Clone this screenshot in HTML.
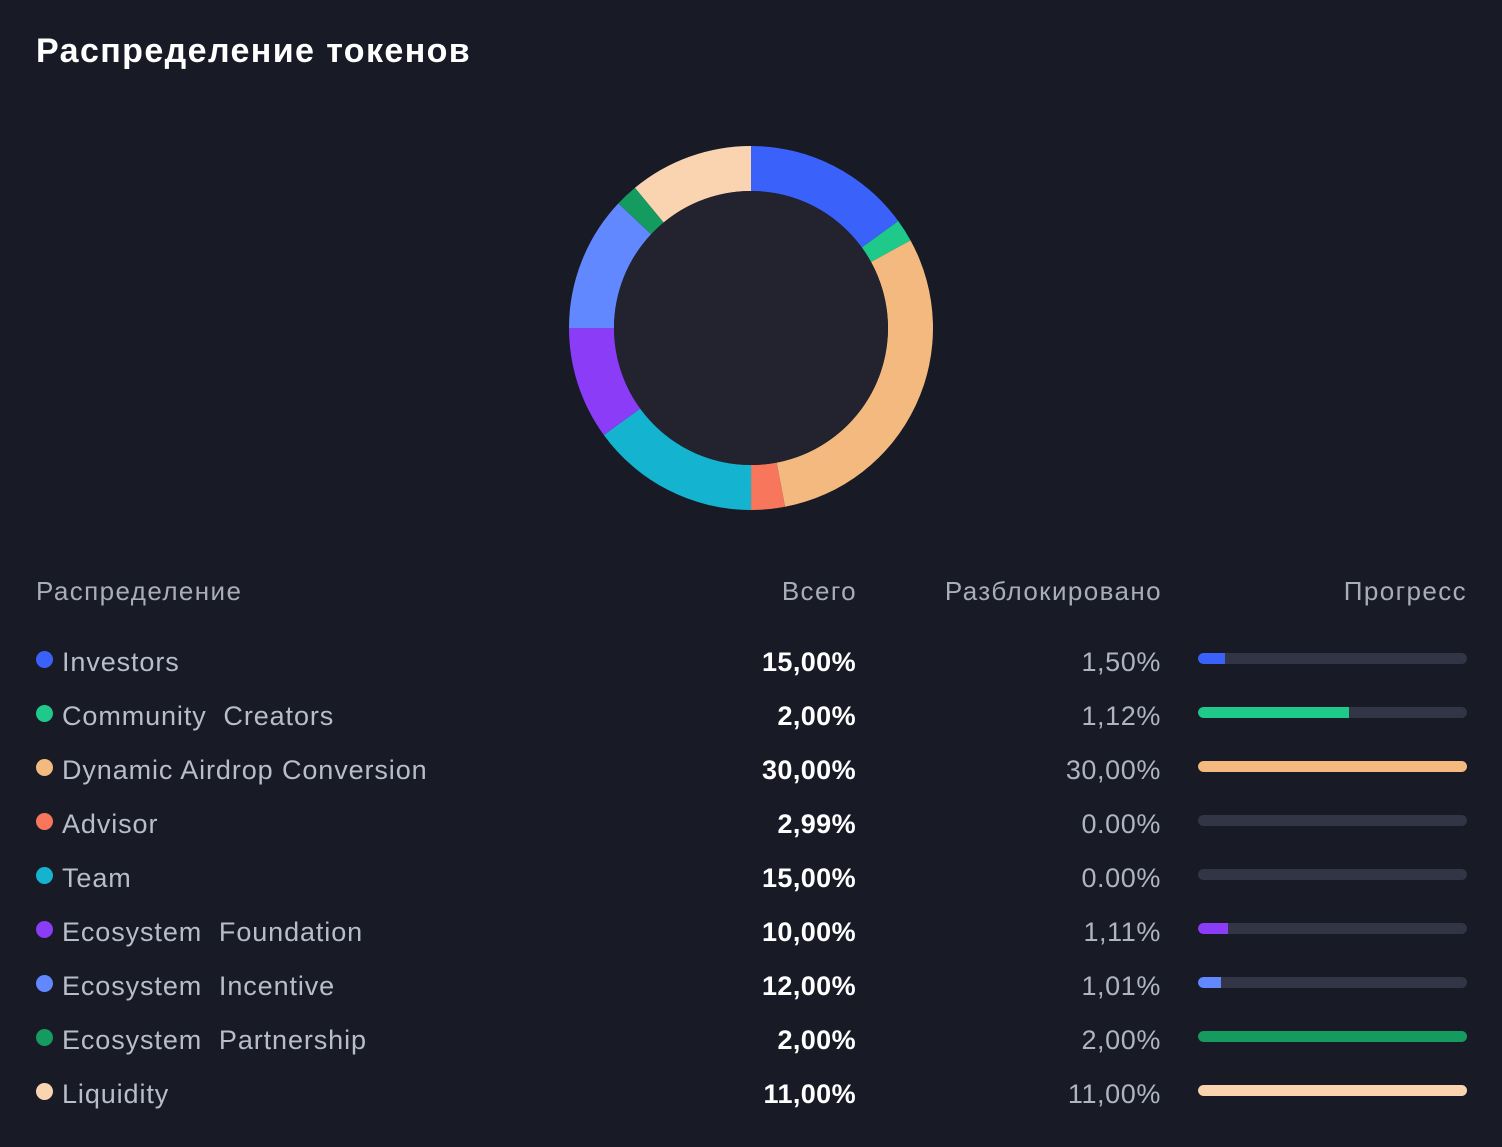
<!DOCTYPE html>
<html><head><meta charset="utf-8"><style>
html,body{margin:0;padding:0;background:#181a26;}
body{width:1502px;height:1147px;position:relative;overflow:hidden;font-family:"Liberation Sans","DejaVu Sans",sans-serif;}
.t{position:absolute;white-space:pre;}
</style></head><body>
<div class="t" style="left:36px;top:32px;font-size:34px;font-weight:bold;color:#fff;letter-spacing:1.4px;">Распределение токенов</div>
<svg id="donut" width="1502" height="540" style="position:absolute;left:0;top:0"></svg>
<div class="t" style="left:36px;top:576px;font-size:26px;color:#a9adbb;letter-spacing:1.4px;">Распределение</div>
<div class="t" style="right:645px;top:576px;font-size:26px;color:#a9adbb;letter-spacing:1.4px;">Всего</div>
<div class="t" style="right:340px;top:576px;font-size:26px;color:#a9adbb;letter-spacing:1.4px;">Разблокировано</div>
<div class="t" style="right:35px;top:576px;font-size:26px;color:#a9adbb;letter-spacing:1.4px;">Прогресс</div>
<div id="rows"></div>
<script>
const categories=["Investors","Community  Creators","Dynamic Airdrop Conversion","Advisor","Team","Ecosystem  Foundation","Ecosystem  Incentive","Ecosystem  Partnership","Liquidity"];
const totals=[15,2,30,2.99,15,10,12,2,11];
const unlocked=[1.5,1.12,30,0,0,1.11,1.01,2,11];
const totalLabels=["15,00%","2,00%","30,00%","2,99%","15,00%","10,00%","12,00%","2,00%","11,00%"];
const unlockedLabels=["1,50%","1,12%","30,00%","0.00%","0.00%","1,11%","1,01%","2,00%","11,00%"];
const colors=["#3a62fb","#1ec98a","#f3b97f","#f8775c","#14b3cf","#8a3cf7","#6288ff","#159a60","#fad4b1"];
const NS="http://www.w3.org/2000/svg";
const svg=document.getElementById('donut');
const cx=751,cy=328,R=182,r=137;
const sum=totals.reduce((a,b)=>a+b,0);
function pt(a,rad){return [cx+rad*Math.sin(a),cy-rad*Math.cos(a)];}
let acc=0;
totals.forEach((v,i)=>{
  const a0=acc/sum*2*Math.PI; acc+=v; const a1=acc/sum*2*Math.PI;
  const lg=(a1-a0)>Math.PI?1:0;
  const p0=pt(a0,R),p1=pt(a1,R),q1=pt(a1,r),q0=pt(a0,r);
  const p=document.createElementNS(NS,'path');
  p.setAttribute('d',`M${p0}A${R},${R} 0 ${lg} 1 ${p1}L${q1}A${r},${r} 0 ${lg} 0 ${q0}Z`);
  p.setAttribute('fill',colors[i]);
  
  
  svg.appendChild(p);
});
const c=document.createElementNS(NS,'circle');
c.setAttribute('cx',cx);c.setAttribute('cy',cy);c.setAttribute('r',r);c.setAttribute('fill','#22232f');


svg.appendChild(c);
const rows=document.getElementById('rows');
categories.forEach((name,i)=>{
  const y=662+i*54;
  const row=document.createElement('div');
  
  
  row.innerHTML=
   `<div style="position:absolute;left:36px;top:${y-11}px;width:17px;height:17px;border-radius:50%;background:${colors[i]}"></div>`+
   `<div class="t" style="left:62px;top:${y-15}px;font-size:27px;color:#b9bdcb;letter-spacing:0.9px">${name}</div>`+
   `<div class="t" style="right:646px;top:${y-15}px;font-size:27px;font-weight:bold;color:#fff;letter-spacing:0.4px">${totalLabels[i]}</div>`+
   `<div class="t" style="right:341px;top:${y-15}px;font-size:27px;color:#b0b4c2;letter-spacing:0.6px">${unlockedLabels[i]}</div>`+
   `<div style="position:absolute;left:1198px;top:${y-9}px;width:269px;height:11px;border-radius:6px;background:#323545;overflow:hidden"><div style="width:${Math.min(1,unlocked[i]/totals[i])*100}%;height:100%;background:${colors[i]};border-radius:6px 0 0 6px"></div></div>`;
  rows.appendChild(row);
});
</script>
</body></html>
